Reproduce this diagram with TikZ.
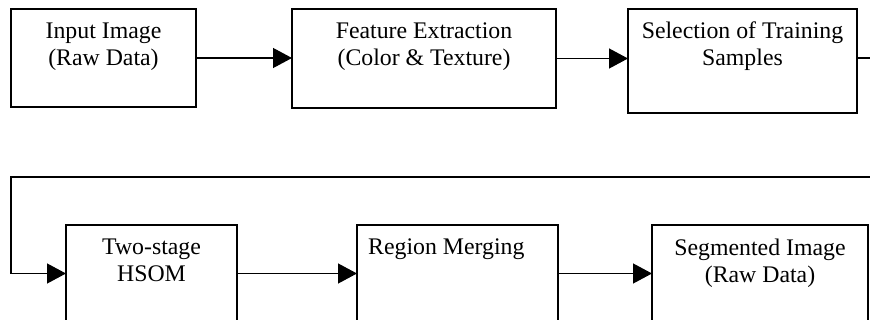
\documentclass[tikz,border=0pt]{standalone}
\usepackage{fontspec}
\setmainfont{Liberation Serif}
\usetikzlibrary{arrows.meta}
\begin{document}
\begin{tikzpicture}[x=1pt,y=-1pt,
  box/.style={draw, line width=1.3pt, inner sep=0pt, outer sep=0pt, anchor=north west},
  boxtext/.style={anchor=north, align=center, inner sep=0pt, font=\fontsize{23.8}{27.5}\selectfont},
  flow/.style={line width=1.3pt, -{Triangle[length=19pt,width=20pt]}}
]
\useasboundingbox (0,0) rectangle (870,320);
\clip (0,0) rectangle (870,320);

% top row
\node[box, minimum width=185pt, minimum height=98pt]  (b1) at (11,9) {};
\node[box, minimum width=264pt, minimum height=99pt]  (b2) at (292,9) {};
\node[box, minimum width=229pt, minimum height=104pt] (b3) at (628,9) {};
% bottom row (runs past the lower edge)
\node[box, minimum width=171pt, minimum height=97pt]  (b4) at (66,225) {};
\node[box, minimum width=201pt, minimum height=97pt]  (b5) at (357,225) {};
\node[box, minimum width=216pt, minimum height=97pt]  (b6) at (652,225) {};

% box texts
\node[boxtext] (t1) at ([yshift=-13.5pt]b1.north) {Input Image\\(Raw Data)};
\node[boxtext] (t2) at ([yshift=-13.5pt]b2.north) {Feature Extraction\\(Color \& Texture)};
\node[boxtext] (t3) at ([yshift=-12.5pt]b3.north) {Selection of Training\\Samples};
\node[boxtext] (t4) at ([yshift=-13.5pt]b4.north) {Two-stage\\HSOM};
\node[boxtext, anchor=north west, align=left] (t5) at ([xshift=11pt,yshift=-13.5pt]b5.north west) {Region Merging};
\node[boxtext] (t6) at ([yshift=-13.5pt]b6.north) {Segmented Image\\(Raw Data)};

% connectors
\coordinate (r1) at (880,58);
\coordinate (r2) at (880,177);
\coordinate (l1) at (11,177);

\draw[flow] (b1.east) -- (b1.east -| b2.west);
\draw[flow] (b2.east) -- (b2.east -| b3.west);
\draw[flow] (b3.east |- r1) -- (r1) -- (r2) -- (l1) -- (l1 |- b4.west) -- (b4.west);
\draw[flow] (b4.east) -- (b5.west);
\draw[flow] (b5.east) -- (b6.west);
\end{tikzpicture}
\end{document}
